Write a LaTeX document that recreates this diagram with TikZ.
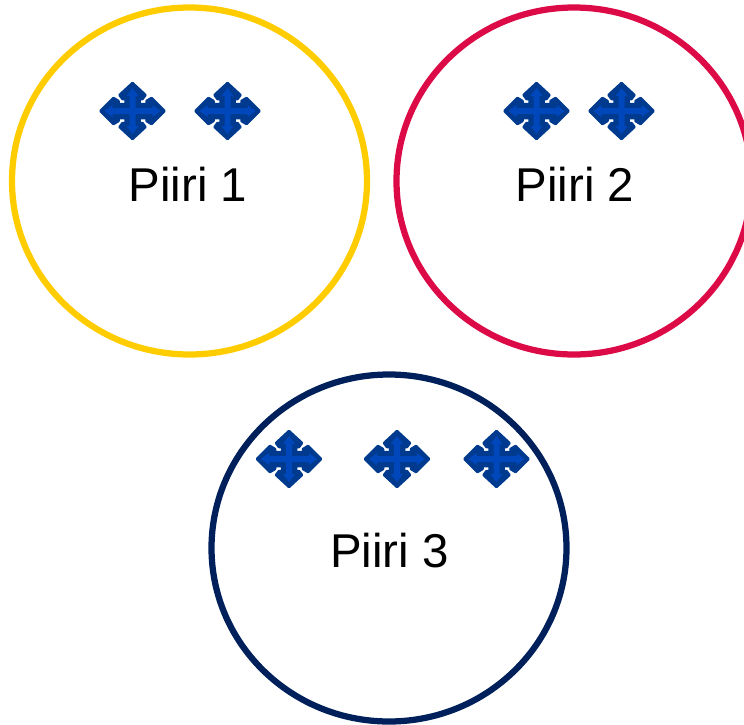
\documentclass[tikz,border=0pt]{standalone}
\usepackage{fontspec}
\setmainfont{Liberation Sans}
\definecolor{piiriyellow}{HTML}{FFCC00}
\definecolor{piirired}{HTML}{DC0A46}
\definecolor{piirinavy}{HTML}{00205B}
\definecolor{icondark}{HTML}{003A8F}
\definecolor{iconlight}{HTML}{0047BB}
\tikzset{
  piiriring/.style={line width=0.125cm},
  piirilabel/.style={font=\fontsize{27}{30}\selectfont, inner sep=0pt},
  moveicon/.pic={
    \fill[icondark, draw=icondark, line width=0.05cm, line join=round]
      (0,-28) -- (13,-16) -- (10,-12) -- (7,-12) -- (7,-7) -- (14,-7) -- (14,-10) -- (19,-13) -- (32,0)
      -- (19,13) -- (14,10) -- (14,7) -- (7,7) -- (7,12) -- (10,12) -- (13,16) -- (0,28)
      -- (-13,16) -- (-10,12) -- (-7,12) -- (-7,7) -- (-14,7) -- (-14,10) -- (-19,13) -- (-32,0)
      -- (-19,-13) -- (-14,-10) -- (-14,-7) -- (-7,-7) -- (-7,-12) -- (-10,-12) -- (-13,-16) -- cycle;
    \fill[iconlight]
      (0,-23) -- (6,-15) -- (3,-15) -- (3,-3) -- (20,-3) -- (20,-6) -- (28,0)
      -- (20,6) -- (20,3) -- (3,3) -- (3,15) -- (6,15) -- (0,23)
      -- (-6,15) -- (-3,15) -- (-3,3) -- (-20,3) -- (-20,6) -- (-28,0)
      -- (-20,-6) -- (-20,-3) -- (-3,-3) -- (-3,-15) -- (-6,-15) -- cycle;
  }
}

\begin{document}
\begin{tikzpicture}[x=0.02cm,y=-0.02cm]
\useasboundingbox (0,0) rectangle (744,724);
\clip (0,0) rectangle (744,724);

\draw[piiriyellow, piiriring] (189.5,181) ellipse (177.5 and 173.5);
\draw[piirired, piiriring] (574,181) ellipse (177.5 and 173.5);
\draw[piirinavy, piiriring] (389,548) ellipse (177.5 and 173.5);

\node[piirilabel] (piiri1) at (188,184) {Piiri 1};
\node[piirilabel] (piiri2) at (575,184) {Piiri 2};
\node[piirilabel] (piiri3) at (389.5,551) {Piiri 3};

\foreach \x/\y in {132.5/111, 227.5/111, 536.5/111, 621.5/111, 289/459, 397/459, 496.5/459}
  \pic at (\x,\y) {moveicon};
\end{tikzpicture}
\end{document}
